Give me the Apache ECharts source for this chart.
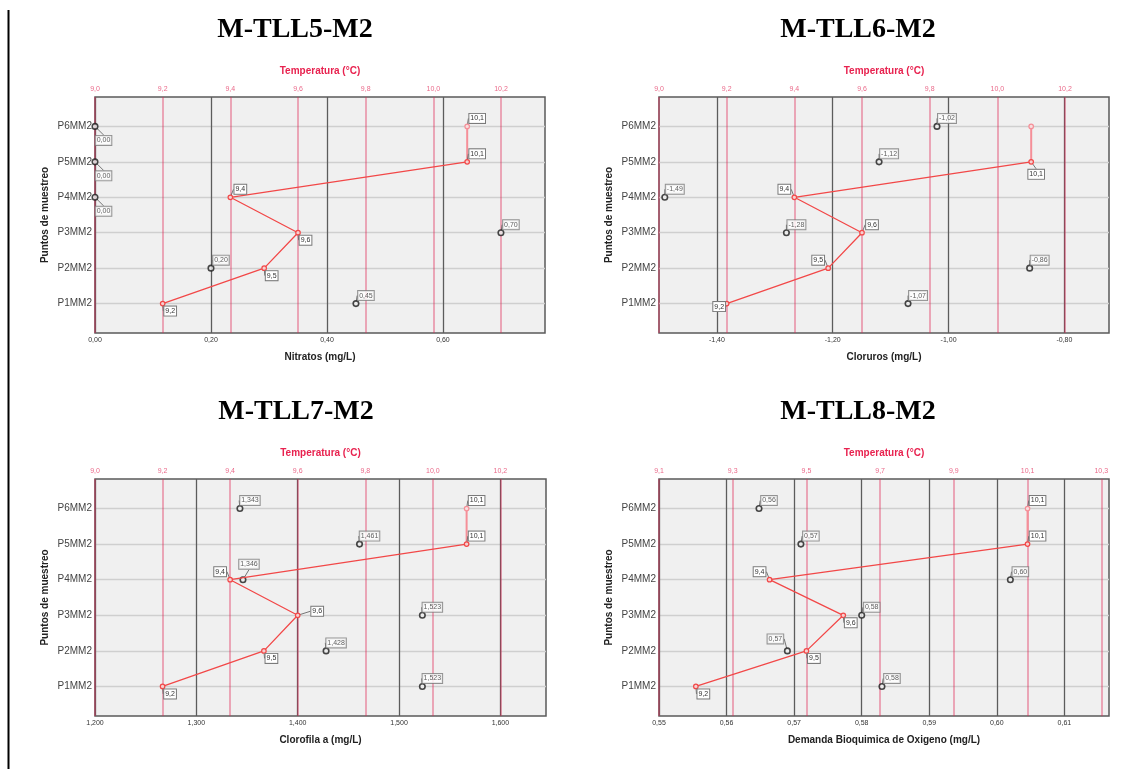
<!DOCTYPE html>
<html>
<head>
<meta charset="utf-8">
<script src="https://cdn.jsdelivr.net/npm/echarts@6/dist/echarts.min.js"></script>
<style>
  html, body { margin: 0; padding: 0; background: #ffffff; }
  #chart { width: 1126px; height: 769px; }
</style>
</head>
<body>
<div id="chart"></div>
<script>
// Sampling points, bottom (P1) to top (P6)
const puntos = ['P1MM2', 'P2MM2', 'P3MM2', 'P4MM2', 'P5MM2', 'P6MM2'];

// Measured parameters per station
const nitratos  = [0.45, 0.20, 0.70, 0.00, 0.00, 0.00];
const cloruros  = [-1.07, -0.86, -1.28, -1.49, -1.12, -1.02];
const clorofila = [1.523, 1.428, 1.523, 1.346, 1.461, 1.343];
const dbo       = [0.583, 0.569, 0.580, 0.602, 0.571, 0.5648];

// Water temperature (°C) per station
const tempTLL5 = [9.2, 9.5, 9.6, 9.4, 10.1, 10.1];
const tempTLL6 = [9.2, 9.5, 9.6, 9.4, 10.1, 10.1];
const tempTLL7 = [9.2, 9.5, 9.6, 9.4, 10.1, 10.1];
const tempTLL8 = [9.2, 9.5, 9.6, 9.4, 10.1, 10.1];

// Tick labels
const ticksTemp      = [9.0, 9.2, 9.4, 9.6, 9.8, 10.0, 10.2];
const ticksTempDBO   = [9.1, 9.3, 9.5, 9.7, 9.9, 10.1, 10.3];
const ticksNitratos  = [0.00, 0.20, 0.40, 0.60];
const ticksCloruros  = [-1.40, -1.20, -1.00, -0.80];
const ticksClorofila = [1.200, 1.300, 1.400, 1.500, 1.600];
const ticksDBO       = [0.55, 0.56, 0.57, 0.58, 0.59, 0.60, 0.61];

// Label box offsets (centre of box relative to the point)
const OFF = {
  ur: [10, -8], dr: [7.5, 7.5], ul: [-10, -8], uul: [-12, -12], uu: [6, -15.5],
  ddr: [8.5, 14], l: [-7.5, 3], d: [5, 12.5], rr: [19.5, -4]
};

const FONT = '"Liberation Sans", Arial, sans-serif';
const fmt = (v, d) => v.toFixed(d).replace('.', ',');

const panels = [
  { title: 'M-TLL5-M2', xName: 'Nitratos (mg/L)', values: nitratos, temp: tempTLL5, dec: 2,
    xMin: 0, xMax: 0.776, xTicks: ticksNitratos, tMin: 9.0, tMax: 10.33, tTicks: ticksTemp,
    grid: { left: 95, top: 97, width: 450, height: 236 }, tx: 290, ty: 11,
    vPlace: ['ur', 'ur', 'ur', 'ddr', 'ddr', 'ddr'], tPlace: ['dr', 'dr', 'dr', 'ur', 'ur', 'ur'] },
  { title: 'M-TLL6-M2', xName: 'Cloruros (mg/L)', values: cloruros, temp: tempTLL6, dec: 2,
    xMin: -1.5, xMax: -0.723, xTicks: ticksCloruros, tMin: 9.0, tMax: 10.33, tTicks: ticksTemp,
    grid: { left: 659, top: 97, width: 450, height: 236 }, tx: 853, ty: 11,
    vPlace: ['ur', 'ur', 'ur', 'ur', 'ur', 'ur'], tPlace: ['l', 'ul', 'ur', 'ul', 'd', null] },
  { title: 'M-TLL7-M2', xName: 'Clorofila a (mg/L)', values: clorofila, temp: tempTLL7, dec: 3,
    xMin: 1.2, xMax: 1.645, xTicks: ticksClorofila, tMin: 9.0, tMax: 10.335, tTicks: ticksTemp,
    grid: { left: 95, top: 479, width: 451, height: 237 }, tx: 291, ty: 393,
    vPlace: ['ur', 'ur', 'ur', 'uu', 'ur', 'ur'], tPlace: ['dr', 'dr', 'rr', 'ul', 'ur', 'ur'] },
  { title: 'M-TLL8-M2', xName: 'Demanda Bioquimica de Oxigeno (mg/L)', values: dbo, temp: tempTLL8, dec: 2,
    xMin: 0.55, xMax: 0.6166, xTicks: ticksDBO, tMin: 9.1, tMax: 10.321, tTicks: ticksTempDBO,
    grid: { left: 659, top: 479, width: 450, height: 237 }, tx: 853, ty: 393,
    vPlace: ['ur', 'uul', 'ur', 'ur', 'ur', 'ur'], tPlace: ['dr', 'dr', 'dr', 'ul', 'ur', 'ur'] }
];

const rowTicks = puntos.map((p, i) => i + 1);

const boxLabel = {
  show: true, position: 'inside', fontSize: 7, fontFamily: FONT, color: '#333',
  backgroundColor: '#ffffff', borderColor: '#7a7a7a', borderWidth: 1, padding: [1, 1, 1, 1]
};
const guide = { show: true, lineStyle: { color: '#555', width: 0.8 } };

const option = {
  animation: false,
  backgroundColor: '#ffffff',
  title: [], grid: [], xAxis: [], yAxis: [], series: [],
  graphic: [{
    type: 'line', shape: { x1: 8.5, y1: 10, x2: 8.5, y2: 769 },
    style: { stroke: '#000', lineWidth: 2 }
  }]
};

panels.forEach((p, i) => {
  option.title.push({
    text: p.title, left: p.tx, top: p.ty, textAlign: 'center',
    textStyle: { fontFamily: '"Liberation Serif", "Times New Roman", serif', fontWeight: 'bold', fontSize: 28, color: '#000' }
  });
  option.grid.push(Object.assign({ show: true, backgroundColor: '#f0f0f0', borderColor: '#5a5a5a', borderWidth: 1.5 }, p.grid));

  // bottom value axis
  option.xAxis.push({
    type: 'value', gridIndex: i, position: 'bottom', min: p.xMin, max: p.xMax,
    name: p.xName, nameLocation: 'middle', nameGap: 19,
    nameTextStyle: { fontFamily: FONT, fontWeight: 'bold', fontSize: 10, color: '#222' },
    axisLine: { show: false },
    axisTick: { show: false, customValues: p.xTicks },
    axisLabel: { customValues: p.xTicks, formatter: v => fmt(v, p.dec), fontSize: 7, fontFamily: FONT, color: '#333', margin: 4 },
    splitLine: { show: true, lineStyle: { color: '#5c5c5c', width: 1.3 } }
  });
  // top temperature axis
  option.xAxis.push({
    type: 'value', gridIndex: i, position: 'top', min: p.tMin, max: p.tMax, z: 1,
    name: 'Temperatura (°C)', nameLocation: 'middle', nameGap: 21,
    nameTextStyle: { fontFamily: FONT, fontWeight: 'bold', fontSize: 10, color: '#e8224f' },
    axisLine: { show: false },
    axisTick: { show: false, customValues: p.tTicks },
    axisLabel: { customValues: p.tTicks, formatter: v => fmt(v, 1), fontSize: 7, fontFamily: FONT, color: '#ea6a8a', margin: 4 },
    splitLine: { show: true, lineStyle: { color: 'rgba(225,40,85,0.5)', width: 1.5 } }
  });
  option.yAxis.push({
    type: 'value', gridIndex: i, min: 0.17, max: 6.83,
    name: 'Puntos de muestreo', nameLocation: 'middle', nameRotate: 90, nameGap: 45,
    nameTextStyle: { fontFamily: FONT, fontWeight: 'bold', fontSize: 10, color: '#222' },
    axisLine: { show: false },
    axisTick: { show: false, customValues: rowTicks },
    axisLabel: { customValues: rowTicks, formatter: v => puntos[Math.round(v) - 1], fontSize: 10, fontFamily: FONT, color: '#444', margin: 3 },
    splitLine: { show: true, lineStyle: { color: '#cfcfcf', width: 1.3 } }
  });

  const placeLayout = (places, offsetIndex) => (params) => {
    const key = places[params.dataIndex + offsetIndex];
    const o = key ? OFF[key] : [0, 0];
    return { dx: o[0], dy: o[1] };
  };

  // parameter points
  option.series.push({
    type: 'scatter', xAxisIndex: 2 * i, yAxisIndex: i, silent: true, z: 3,
    symbol: 'circle', symbolSize: 5.5,
    itemStyle: { color: '#f0f0f0', borderColor: '#1a1a1a', borderWidth: 1.6 },
    data: p.values.map((v, k) => [v, k + 1]),
    label: Object.assign({}, boxLabel, { formatter: q => fmt(q.value[0], p.dec) }),
    labelLine: guide,
    labelLayout: placeLayout(p.vPlace, 0)
  });

  // temperature profile P1..P5
  const nMain = p.temp.length - 1;
  option.series.push({
    type: 'line', xAxisIndex: 2 * i + 1, yAxisIndex: i, silent: true, z: 4,
    symbol: 'circle', symbolSize: 4.5, showAllSymbol: true,
    lineStyle: { color: '#f24848', width: 1.3 },
    itemStyle: { color: '#f6d0d0', borderColor: '#f24848', borderWidth: 1.2 },
    data: p.temp.slice(0, nMain).map((v, k) => ({
      value: [v, k + 1],
      label: { show: !!p.tPlace[k] }
    })),
    label: Object.assign({}, boxLabel, { formatter: q => fmt(q.value[0], 1) }),
    labelLine: guide,
    labelLayout: placeLayout(p.tPlace, 0)
  });
  // temperature segment P5..P6
  option.series.push({
    type: 'line', xAxisIndex: 2 * i + 1, yAxisIndex: i, silent: true, z: 3,
    symbol: 'circle', symbolSize: 4.5, showAllSymbol: true,
    lineStyle: { color: '#f58f98', width: 2 },
    itemStyle: { color: '#f8dede', borderColor: '#f58f98', borderWidth: 1.2 },
    data: p.temp.slice(nMain - 1).map((v, k) => ({
      value: [v, nMain + k],
      symbol: k === 0 ? 'none' : 'circle',
      label: { show: k > 0 && !!p.tPlace[nMain + k - 1] }
    })),
    label: Object.assign({}, boxLabel, { formatter: q => fmt(q.value[0], 1) }),
    labelLine: guide,
    labelLayout: placeLayout(p.tPlace, nMain - 1)
  });
});

const chart = echarts.init(document.getElementById('chart'), null, { renderer: 'canvas' });
chart.setOption(option);
</script>
</body>
</html>
